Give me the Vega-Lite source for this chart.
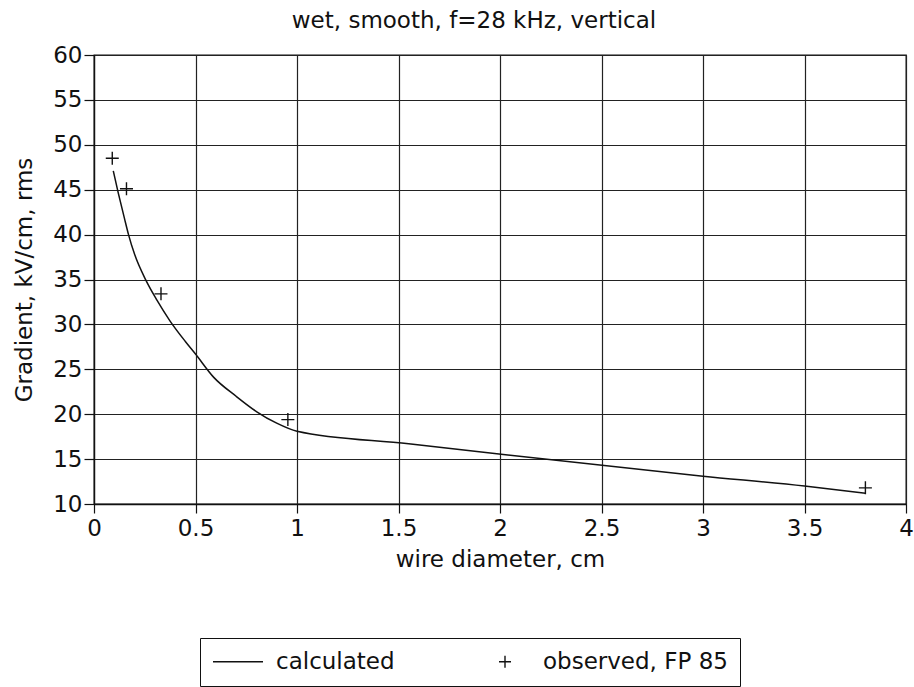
{
  "$schema": "https://vega.github.io/schema/vega-lite/v6.json",
  "width": 812,
  "height": 449,
  "autosize": {"type": "none"},
  "padding": {"left": 94, "top": 55, "right": 8, "bottom": 183},
  "background": "white",
  "title": {
    "text": "wet, smooth, f=28 kHz, vertical",
    "font": "DejaVu Sans",
    "fontSize": 23,
    "fontWeight": "normal",
    "color": "#111",
    "anchor": "middle",
    "dx": -26,
    "offset": 11
  },
  "config": {
    "view": {"stroke": "#111", "strokeWidth": 1.3},
    "axis": {
      "labelFont": "DejaVu Sans",
      "labelFontSize": 23,
      "labelColor": "#111",
      "titleFont": "DejaVu Sans",
      "titleFontSize": 23,
      "titleFontWeight": "normal",
      "titleColor": "#111",
      "domainColor": "#111",
      "domainWidth": 1.3,
      "tickColor": "#111",
      "tickWidth": 1.2,
      "gridColor": "#222",
      "gridOpacity": 1,
      "gridWidth": 1.2,
      "labelOverlap": false,
      "labelFlush": false
    }
  },
  "datasets": {
    "calc": [
      {"d": 0.095, "g": 47.1, "series": "calculated"},
      {"d": 0.12, "g": 44.6, "series": "calculated"},
      {"d": 0.15, "g": 41.8, "series": "calculated"},
      {"d": 0.17, "g": 40.0, "series": "calculated"},
      {"d": 0.2, "g": 37.8, "series": "calculated"},
      {"d": 0.256, "g": 34.9, "series": "calculated"},
      {"d": 0.31, "g": 32.7, "series": "calculated"},
      {"d": 0.374, "g": 30.4, "series": "calculated"},
      {"d": 0.45, "g": 28.1, "series": "calculated"},
      {"d": 0.5, "g": 26.7, "series": "calculated"},
      {"d": 0.59, "g": 24.1, "series": "calculated"},
      {"d": 0.7, "g": 22.0, "series": "calculated"},
      {"d": 0.8, "g": 20.3, "series": "calculated"},
      {"d": 0.9, "g": 19.0, "series": "calculated"},
      {"d": 1.0, "g": 18.1, "series": "calculated"},
      {"d": 1.55, "g": 16.7, "series": "calculated"},
      {"d": 3.0, "g": 13.1, "series": "calculated"},
      {"d": 3.5, "g": 12.0, "series": "calculated"},
      {"d": 3.8, "g": 11.2, "series": "calculated"}
    ],
    "obs": [
      {"d": 0.09, "g": 48.5, "series": "observed, FP 85"},
      {"d": 0.16, "g": 45.1, "series": "observed, FP 85"},
      {"d": 0.33, "g": 33.4, "series": "observed, FP 85"},
      {"d": 0.955, "g": 19.4, "series": "observed, FP 85"},
      {"d": 3.8, "g": 11.8, "series": "observed, FP 85"}
    ]
  },
  "layer": [
    {
      "data": {"name": "calc"},
      "mark": {"type": "line", "stroke": "#111", "strokeWidth": 1.5, "interpolate": "monotone"},
      "encoding": {
        "x": {
          "field": "d", "type": "quantitative",
          "scale": {"domain": [0, 4], "nice": false},
          "axis": {
            "title": "wire diameter, cm",
            "values": [0, 0.5, 1, 1.5, 2, 2.5, 3, 3.5, 4],
            "format": "~g",
            "tickSize": 9,
            "labelPadding": 4,
            "titlePadding": 8
          }
        },
        "y": {
          "field": "g", "type": "quantitative",
          "scale": {"domain": [10, 60], "nice": false, "zero": false},
          "axis": {
            "title": "Gradient, kV/cm, rms",
            "values": [10, 15, 20, 25, 30, 35, 40, 45, 50, 55, 60],
            "tickSize": 10,
            "labelPadding": 2,
            "titlePadding": 16
          }
        },
        "color": {
          "field": "series", "type": "nominal",
          "scale": {"domain": ["calculated", "observed, FP 85"], "range": ["#111", "#111"]},
          "legend": {
            "title": null,
            "orient": "none",
            "legendX": 106,
            "legendY": 583,
            "direction": "horizontal",
            "strokeColor": "#111",
            "padding": 12,
            "fillColor": "white",
            "labelFont": "DejaVu Sans",
            "labelFontSize": 23,
            "labelColor": "#111",
            "labelOffset": 12,
            "labelLimit": 400,
            "columnPadding": 84,
            "symbolSize": 2500,
            "symbolStrokeWidth": 1.4,
            "clipHeight": 23,
            "encode": {
              "symbols": {
                "update": {
                  "shape": {"signal": "datum.value === 'calculated' ? 'M-1,0L1,0' : 'M-0.24,0L0.24,0M0,-0.24L0,0.24'"},
                  "stroke": {"value": "#111"},
                  "fill": {"value": "transparent"},
                  "strokeWidth": {"value": 1.4},
                  "opacity": {"value": 1}
                }
              }
            }
          }
        }
      }
    },
    {
      "data": {"name": "obs"},
      "mark": {"type": "point", "shape": "M-1,0L1,0M0,-1L0,1", "size": 169, "filled": false, "strokeWidth": 1.4, "opacity": 1},
      "encoding": {
        "x": {"field": "d", "type": "quantitative"},
        "y": {"field": "g", "type": "quantitative"},
        "color": {"field": "series", "type": "nominal"}
      }
    }
  ]
}
